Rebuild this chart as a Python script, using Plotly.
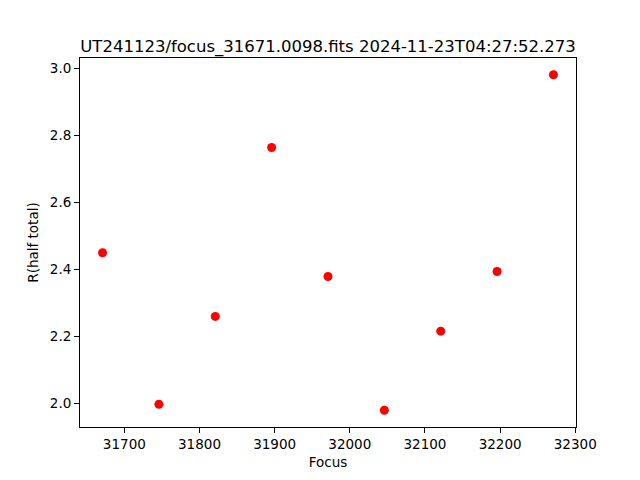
import plotly.graph_objects as go

focus = [31671, 31746, 31821, 31896, 31971, 32046, 32121, 32196, 32271]
r_half = [2.449, 1.997, 2.259, 2.763, 2.378, 1.979, 2.215, 2.393, 2.980]
title = "UT241123/focus_31671.0098.fits 2024-11-23T04:27:52.273"

xmin, xmax = min(focus), max(focus)
ymin, ymax = min(r_half), max(r_half)
xr = [xmin - 0.05 * (xmax - xmin), xmax + 0.05 * (xmax - xmin)]
yr = [ymin - 0.05 * (ymax - ymin), ymax + 0.05 * (ymax - ymin)]

fig = go.Figure(go.Scatter(x=focus, y=r_half, mode="markers",
                           marker=dict(color="red", size=9, line=dict(width=0))))

axis_common = dict(showgrid=False, zeroline=False, showline=True, linecolor="black",
                   linewidth=1, mirror=True, ticks="outside", ticklen=5, tickwidth=1,
                   tickcolor="black", automargin=False,
                   tickfont=dict(family="DejaVu Sans", size=13.5, color="black"))

fig.update_layout(
    width=640, height=480,
    paper_bgcolor="white", plot_bgcolor="white",
    margin=dict(l=72, r=72, t=50, b=61),
    font=dict(family="DejaVu Sans", color="black"),
    title=dict(text=title, x=0.5, xref="paper", xanchor="center",
               y=1, yref="paper", yanchor="bottom", pad=dict(b=6),
               font=dict(family="DejaVu Sans", size=16.5, color="black"), automargin=False),
    xaxis=dict(range=xr, dtick=100, tick0=31700, tickformat="d",
               title=dict(text="Focus", font=dict(size=13.5), standoff=6), **axis_common),
    yaxis=dict(range=yr, dtick=0.2, tick0=2.0, tickformat=".1f",
               title=dict(text="R(half total)", font=dict(size=13.5), standoff=8), **axis_common),
    showlegend=False,
)

fig.write_html("out.html")
